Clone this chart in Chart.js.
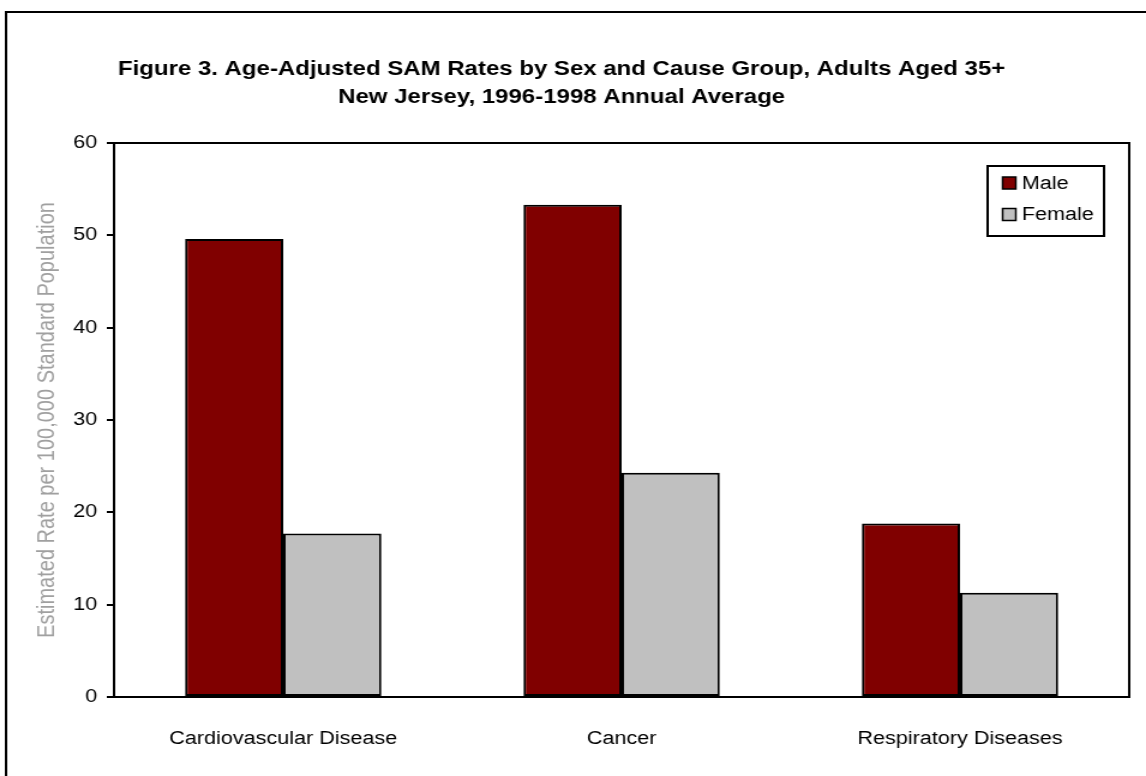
<!DOCTYPE html>
<html>
<head>
<meta charset="utf-8">
<script src="https://cdn.jsdelivr.net/npm/chart.js@4"></script>
<style>
  body { margin: 0; background: #fff; overflow: hidden; }
  /* the figure is drawn a little narrow and widened, as the old exported chart was */
  #sam { display: block; transform: scaleX(1.2); transform-origin: 0 0; }
</style>
</head>
<body>
<canvas id="sam" width="955" height="776"></canvas>
<script>
var causes = ['Cardiovascular Disease', 'Cancer', 'Respiratory Diseases'];
var maleRates = [49.6, 53.3, 18.8];
var femaleRates = [17.7, 24.3, 11.3];
var titleLines = [
    'Figure 3. Age-Adjusted SAM Rates by Sex and Cause Group, Adults Aged 35+',
    'New Jersey, 1996-1998 Annual Average'
];

var FONT = '"Liberation Sans", Arial, sans-serif';

// white page, outer frame and the two-line heading
var framePlugin = {
    id: 'frame',
    beforeDraw: function (chart) {
        var ctx = chart.ctx;
        ctx.save();
        ctx.fillStyle = '#fff';
        ctx.fillRect(0, 0, chart.width, chart.height);
        ctx.strokeStyle = '#000';
        ctx.lineWidth = 2;
        ctx.strokeRect(5, 12, chart.width + 40, chart.height + 40);
        ctx.fillStyle = '#000';
        ctx.font = 'bold 20px ' + FONT;
        ctx.textAlign = 'center';
        ctx.textBaseline = 'alphabetic';
        ctx.fillText(titleLines[0], 468, 75);
        ctx.fillText(titleLines[1], 468, 103);
        ctx.restore();
    },
    afterDatasetsDraw: function (chart) {
        // box round the plot area
        var a = chart.chartArea;
        var ctx = chart.ctx;
        ctx.save();
        ctx.strokeStyle = '#000';
        ctx.lineWidth = 2;
        ctx.strokeRect(a.left, a.top, a.right - a.left, a.bottom - a.top);
        ctx.restore();
    }
};

// boxed legend in the upper right corner of the plot
var legendBox = {
    id: 'legendBox',
    afterDraw: function (chart) {
        var a = chart.chartArea;
        var ctx = chart.ctx;
        var w = 97, h = 70;
        var x = a.right - 21 - w, y = a.top + 23;
        ctx.save();
        ctx.fillStyle = '#fff';
        ctx.fillRect(x, y, w, h);
        ctx.strokeStyle = '#000';
        ctx.lineWidth = 2;
        ctx.strokeRect(x, y, w, h);
        ctx.font = '18px ' + FONT;
        ctx.textBaseline = 'middle';
        chart.data.datasets.forEach(function (ds, i) {
            var cy = y + 17 + i * 31.5;
            ctx.fillStyle = ds.backgroundColor;
            ctx.fillRect(x + 12.5, cy - 6, 11, 12);
            ctx.lineWidth = 1.5;
            ctx.strokeRect(x + 12.5, cy - 6, 11, 12);
            ctx.fillStyle = '#000';
            ctx.fillText(ds.label, x + 28.5, cy + 1);
        });
        ctx.restore();
    }
};

new Chart(document.getElementById('sam'), {
    type: 'bar',
    data: {
        labels: causes,
        datasets: [{
            label: 'Male',
            data: maleRates,
            backgroundColor: '#800000',
            borderColor: '#000',
            borderWidth: 2,
            borderSkipped: false
        }, {
            label: 'Female',
            data: femaleRates,
            backgroundColor: '#c0c0c0',
            borderColor: '#000',
            borderWidth: 2,
            borderSkipped: false
        }]
    },
    options: {
        responsive: false,
        animation: false,
        layout: { padding: { left: 0, right: 14, top: 143, bottom: 0 } },
        datasets: { bar: { categoryPercentage: 0.58, barPercentage: 1 } },
        plugins: {
            legend: { display: false },
            tooltip: { enabled: false }
        },
        scales: {
            x: {
                grid: { display: false },
                border: { display: true, color: '#000', width: 2 },
                ticks: { color: '#000', font: { family: FONT, size: 18 }, padding: 23, maxRotation: 0 },
                afterFit: function (s) { s.height = 79; }
            },
            y: {
                min: 0,
                max: 60,
                ticks: { stepSize: 10, color: '#000', font: { family: FONT, size: 18 }, padding: 8 },
                grid: { drawOnChartArea: false, color: '#000', tickColor: '#000', tickLength: 6, lineWidth: 2 },
                border: { display: true, color: '#000', width: 2 },
                title: {
                    display: true,
                    text: 'Estimated Rate per 100,000 Standard Population',
                    color: '#a0a0a0',
                    font: { family: FONT, size: 20 },
                    padding: { top: 27, bottom: 0 }
                },
                afterFit: function (s) { s.width = 95; }
            }
        }
    },
    plugins: [framePlugin, legendBox]
});
</script>
</body>
</html>
